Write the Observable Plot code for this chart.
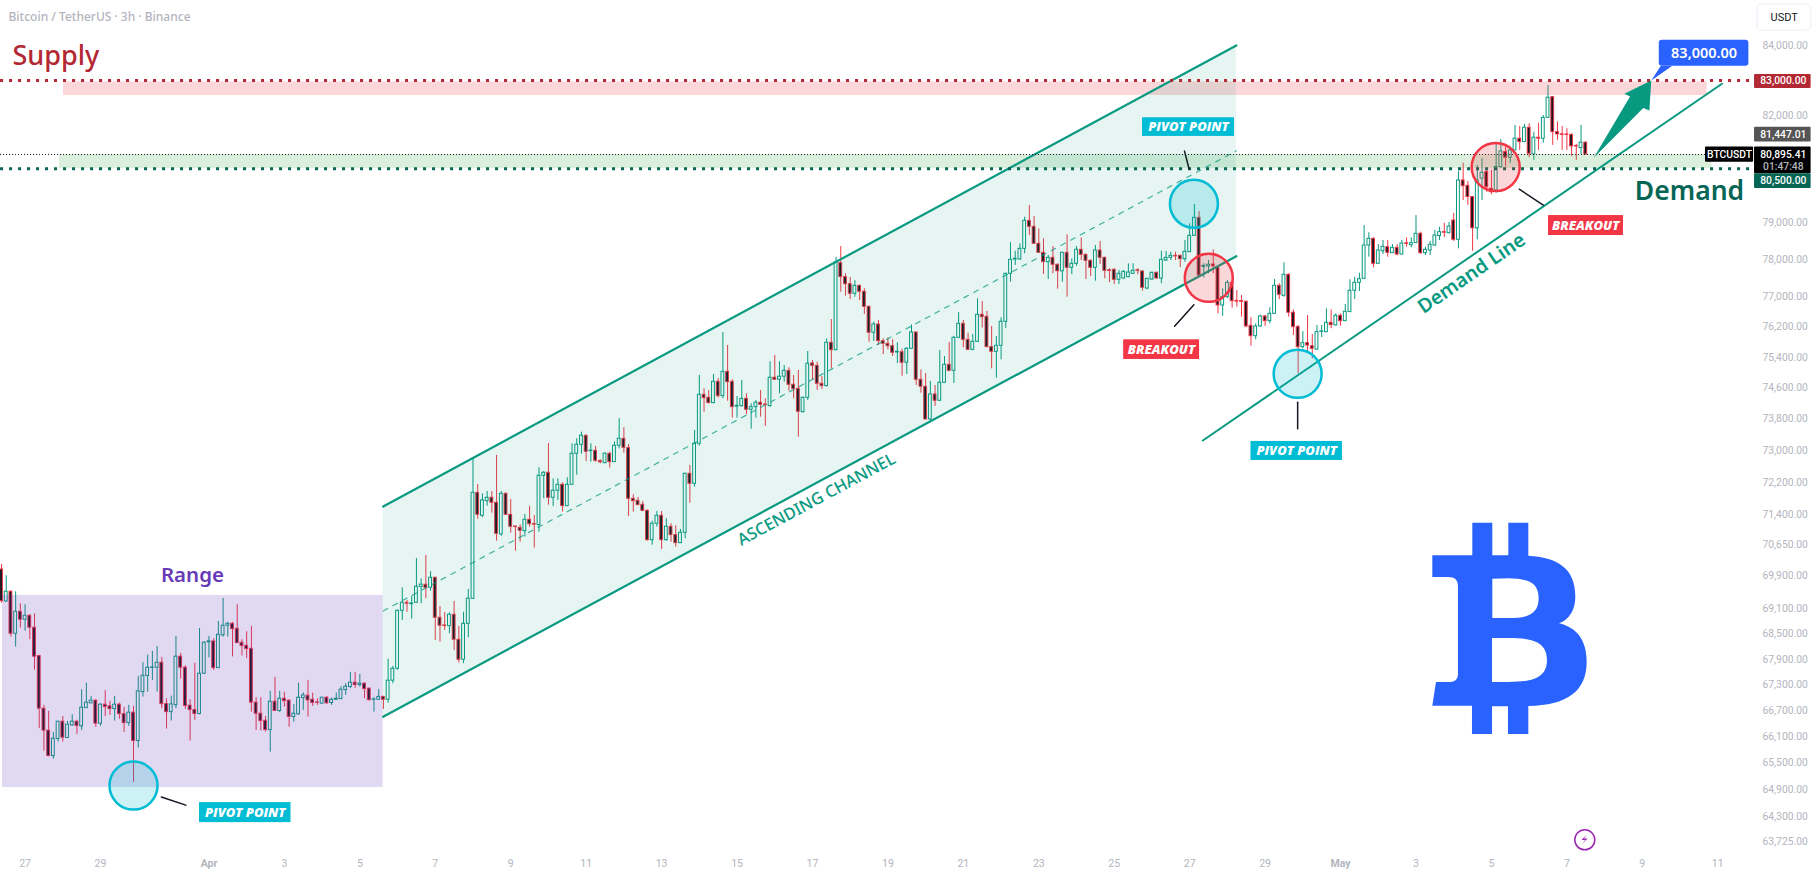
<!DOCTYPE html>
<html>
<head>
<meta charset="utf-8">
<script src="https://cdn.jsdelivr.net/npm/d3@7"></script>
<script src="https://cdn.jsdelivr.net/npm/@observablehq/plot@0.6"></script>
<style>html,body{margin:0;padding:0;background:#fff;overflow:hidden}svg{display:block}</style>
</head>
<body>
<div id="chart"></div>
<script>
const opens = [
70047,69274,69508,68503,69027,68836,68932,68645,67975,66744,
66237,65656,66045,66444,66068,66359,66444,66336,66758,66867,
66930,66398,66837,66798,66735,66837,66620,66412,66652,65999,
67130,67505,67695,67700,67817,66850,66665,66827,67960,67700,
66814,66712,66620,67559,68300,68320,67690,68463,68693,68740,
68621,68289,68218,68146,66884,66628,66465,66251,66906,66690,
66975,66930,66551,66613,66990,67046,66952,66890,66860,66999,
66875,66950,66966,67178,67248,67349,67293,67326,67210,66950,
66952,67018,66952,67396,67676,69050,69243,69210,69243,69625,
69677,69604,69846,68884,68700,68683,68955,68360,67888,68740,
69339,71936,71365,71728,71812,71688,70904,71910,71389,71100,
71068,70985,71266,71160,71135,72362,72437,71812,71987,72136,
71603,72136,72916,73145,73374,72985,72992,72735,72680,72916,
72705,73120,73297,73060,71787,71738,71638,71488,70763,71167,
71365,70763,71093,70888,70690,70945,72412,72161,73170,74425,
74347,74209,74761,74390,75020,74761,74120,74132,74320,74039,
74106,74219,74175,74132,74866,74813,74893,75046,74684,74580,
73978,74347,75238,75177,74710,74648,75780,75585,77903,77525,
77336,77079,77293,77133,76732,76043,76262,75822,75753,75690,
75525,75533,75256,75622,76051,74813,74632,73790,74433,74270,
74735,75203,75046,75910,76280,75858,75595,75805,76520,76466,
75665,75543,75700,76333,77615,78000,78000,78290,79055,78890,
78428,78183,77928,78047,77858,77685,78183,77777,77885,78265,
78128,77966,77777,78245,78047,77710,77723,77454,77489,77525,
77615,77710,77677,77220,77462,77642,77489,77974,78047,78100,
78100,78010,78200,78645,79138,77800,77815,77866,77785,76767,
76988,77373,76890,76885,76865,76228,75953,76210,76475,76350,
76545,77293,77025,77588,76575,76193,75665,75770,75690,75600,
76068,76060,76307,76237,76493,76350,76590,77160,77373,77480,
78381,78563,77885,78226,78336,78175,78318,78136,78440,78390,
78445,78700,78173,78245,78381,78640,78745,78717,79064,78536,
80170,80020,79710,78850,80220,80405,79939,79892,80545,80963,
80806,81011,81340,81244,81650,80900,81368,81340,81932,82521,
81526,81465,81460,81447,81135,81077,81229];
const highs = [
70169,69895,69532,69508,69219,69195,68955,68979,67990,66820,
66682,66198,66444,66566,66451,66605,66474,67185,67340,67030,
66952,66860,67162,66913,67030,66873,66775,66821,66798,67497,
67817,67995,68084,68202,67943,66975,67036,68439,68037,67747,
66952,67802,68629,68310,68439,68384,68795,69346,68771,68771,
69195,68360,68550,68676,66999,66999,66566,67146,67474,67146,
67123,66952,66837,67333,67115,67403,67106,66975,67005,67020,
66990,67106,67256,67326,67590,67590,67543,67340,67225,66999,
67192,67030,67896,67731,69065,69604,69298,69394,70316,69822,
70389,69992,69860,69154,69010,69003,69274,68676,69015,69563,
72790,72144,71910,71969,71969,72874,71969,71935,71770,71110,
71142,71397,71596,71372,72563,72470,73178,72287,72287,72186,
72312,73170,73297,73466,73390,73170,73101,72765,72942,72957,
73221,73808,73577,73152,71886,71820,71720,71510,71232,71472,
71472,71290,71167,71117,71027,72425,72622,73509,74925,74580,
74536,74950,74840,76051,75708,74813,74380,74795,74450,74193,
74278,74536,74322,75282,75447,75282,75185,75124,74925,75054,
74370,75551,75316,75272,74899,75884,76395,78060,78354,77615,
77515,77428,77310,77213,76750,76323,76368,75884,75910,75866,
75780,75610,75650,76254,76060,75072,74975,74769,74665,75577,
75420,75787,75950,76575,76368,76033,75998,76945,76874,76608,
76210,75945,76440,77632,78455,78225,78428,79155,79477,79174,
78836,78563,78110,78354,77885,78200,78672,78020,78354,78590,
78150,77990,78381,78490,78065,77750,77750,77704,77704,77885,
77885,77750,77704,77490,77660,77665,78226,78218,78200,78200,
78125,78517,78974,79505,79310,77885,77974,78263,77800,77213,
77435,77390,77167,77033,76885,76440,76280,76510,76500,76705,
77462,77347,77912,77615,76650,76237,76078,76500,75998,76237,
76237,76677,76650,76545,76545,76794,77454,77525,77632,78927,
78727,78590,78408,78517,78517,78408,78408,78517,78590,78590,
79200,78745,78336,78490,78790,78880,78990,79010,79260,80424,
80650,80142,79720,80590,80778,80452,80452,81236,81312,81105,
81105,81716,81687,81744,81763,81526,81780,81998,82856,82540,
81811,81687,81620,81480,81180,81716,81245];
const lows = [
69233,69250,68423,68186,68636,68564,68360,67644,66283,65770,
65640,65581,65976,65976,66060,66336,66152,66244,66750,66860,
66313,66336,66560,66590,66458,66497,66198,66336,65060,65839,
67013,67130,67403,67130,66744,66274,66458,66744,67433,66728,
65999,66474,66600,67540,67930,67637,67680,68423,68423,67954,
68270,67973,67912,66665,66244,66228,66205,65747,66680,66652,
66782,66313,66435,66590,66705,66551,66798,66821,66855,66850,
66821,66945,66960,67053,67210,67216,67248,66975,66913,66665,
66945,66728,66873,67326,67640,68819,69015,68850,69235,69219,
69339,69522,68344,68304,68581,68503,68107,67810,67794,68407,
69330,71281,71316,71603,71430,70739,70861,71380,70936,70494,
70714,70838,71085,70567,70960,71787,71628,71596,71745,71455,
71595,72130,72377,72906,72723,72705,72705,72665,72665,72553,
72695,73043,72931,71348,71455,71620,71465,70739,70640,71085,
70535,70739,70714,70592,70680,70797,71678,72078,73110,73978,
74193,74195,74338,74320,74260,73824,73824,74106,73911,73542,
73824,73850,73611,74106,74795,74450,74750,74518,74320,73338,
73950,74278,74795,74536,74562,74622,75098,75570,77122,77015,
76927,76988,76900,76527,75795,75813,75708,75472,75595,75420,
75238,74906,74950,75610,74665,74466,73780,73760,74124,74260,
74725,75020,74718,75890,75648,75580,75570,75795,76170,75648,
75098,74855,75334,76160,77390,77840,77990,78155,78653,78415,
78170,77596,77462,77615,77202,77390,76988,77596,77820,77974,
77462,77543,77416,77866,77480,77380,77328,77328,77480,77508,
77605,77590,77150,77185,77435,77462,77347,77947,77974,77974,
77785,77928,78190,78625,77525,77500,77615,77615,76545,76475,
76945,76695,76722,76457,76175,75690,75858,76192,76210,76280,
76535,76927,76988,76457,75971,74968,75622,75533,75360,75590,
75920,76045,76150,76225,76218,76340,76580,76927,77140,77470,
78064,77777,77866,78136,78064,78165,78100,78125,78335,78318,
78435,78136,78110,78110,78354,78517,78600,78700,78490,78290,
79615,79477,78226,78536,79615,79845,79770,79817,80500,80545,
80650,81000,81011,81235,80806,80731,81011,81216,81920,81151,
81292,81011,81011,80844,80731,80895,80890];
const closes = [
69281,69508,68503,69027,68836,68932,68645,67960,66744,66237,
65656,66053,66444,66077,66375,66444,66343,66767,66884,66930,
66398,66837,66782,66735,66837,66620,66412,66652,65999,67146,
67512,67700,67705,67817,66850,66665,66844,67960,67700,66805,
66712,66620,67559,68290,68320,67690,68479,68693,68740,68612,
68280,68209,68138,66884,66628,66458,66251,66906,66690,66975,
66920,66551,66628,66999,67053,66936,66875,66880,66999,66867,
66952,66975,67185,67256,67349,67293,67326,67200,66943,66960,
67018,66952,67396,67676,69050,69243,69220,69225,69629,69680,
69596,69846,68884,68693,68685,68955,68360,67888,68740,69339,
71936,71389,71745,71812,71688,70920,71910,71389,71093,71085,
70995,71266,71157,71145,72362,72437,71812,71987,72136,71603,
72136,72916,73145,73374,72967,72995,72740,72700,72916,72705,
73120,73297,73067,71787,71728,71628,71488,70763,71167,71365,
70763,71093,70888,70690,70945,72412,72161,73170,74425,74338,
74209,74761,74390,75020,74750,74106,74140,74320,74039,74106,
74219,74167,74160,74866,74813,74893,75046,74684,74570,73988,
74347,75230,75177,74710,74648,75780,75585,77930,77525,77336,
77079,77293,77133,76732,76043,76262,75822,75753,75690,75517,
75545,75256,75622,76051,74813,74632,73790,74433,74270,74735,
75203,75046,75910,76280,75858,75595,75805,76520,76455,75665,
75543,75700,76333,77615,77993,78020,78290,79055,78890,78428,
78183,77928,78047,77858,77685,78183,77777,77885,78265,78128,
77966,77777,78245,78047,77696,77690,77454,77615,77669,77650,
77696,77695,77240,77480,77642,77489,77993,78047,78100,78085,
78010,78210,78645,79138,77570,77830,77860,77815,76767,76988,
77373,76881,76870,76865,76210,75953,76210,76475,76350,76545,
77293,77052,77588,76575,76193,75665,75770,75708,75622,76060,
76080,76307,76245,76493,76350,76600,77160,77373,77470,78381,
78563,77885,78245,78346,78183,78318,78136,78435,78425,78445,
78700,78173,78264,78400,78653,78745,78730,78899,78536,80170,
80010,79710,78850,80170,80386,79985,79845,80545,80983,80806,
81011,81340,81244,81650,80917,81368,81340,81932,82504,81526,
81461,81450,81445,81124,81120,81229,80895];

// Axis ticks: bar numbers of the date labels, and the price scale labels
const dayTicks = [5,21,60,76,92,108,124,140,156,172,188,204,220,236,252,268,300,316,332,348,364];
const dayLabels = ["27","29","3","5","7","9","11","13","15","17","19","21","23","25","27","29","3","5","7","9","11"];
const monthTicks = [44,284];
const monthLabels = ["Apr","May"];
const yTicks = [84000,82000,79000,78000,77000,76200,75400,74600,73800,73000,72200,71400,70650,69900,69100,68500,67900,67300,66700,66100,65500,64900,64300,63725];

// Levels
const supplyLevel = 83000, demandLevel = 80500, lastPrice = 80895.41, prevClose = 81447.01;

// Zones: [bar1, bar2, priceTop, priceBottom]
const zoneRange   = [0.21, 80.95, 69418, 64942];
const zoneSupply  = [13.15, 361.75, 82960, 82569];
const zoneDemand  = [12.3, 362.8, 80895, 80500];

// Channel
const channelBars = [80.95, 261.9];
const channelUpper = [71595, 84014];
const channelMid   = [69046, 81000];
const channelLower = [66558, 78090];
const demandLineBars = [254.8, 364.9];
const demandLinePrices = [73254, 82905];

// Arrow polygon and callout pointer
const arrowBars = [337.7, 345.4, 344.2, 349.9, 349.5, 348.2];
const arrowPrices = [80806, 82540, 82618, 83000, 82141, 82215];
const pointerBars = [351.9, 354.3, 349.9];
const pointerPrices = [83420, 83420, 83000];

// Circles
const pivotBars = [28, 252.9, 274.9];
const pivotPrices = [64987, 79524, 74968];
const breakBars = [256.05, 316.9];
const breakPrices = [77508, 80544];

// Leader lines: one short segment per group
const leaders = [
  {g:1,b:33.9,p:64729},{g:1,b:39.07,p:64547},
  {g:2,b:250.9,p:80991},{g:2,b:251.9,p:80480},
  {g:3,b:252.9,p:76785},{g:3,b:248.8,p:76217},
  {g:4,b:274.9,p:74234},{g:4,b:274.9,p:73552},
  {g:5,b:321.9,p:79928},{g:5,b:327,p:79488}
];

// Label boxes
const tagBoxes = [
  {b1:42,b2:61.4,p1:64604,p2:64157,f:"#00bcd4"},
  {b1:242,b2:261.5,p1:81933,p2:81405,f:"#00bcd4"},
  {b1:265,b2:284.4,p1:73229,p2:72748,f:"#00bcd4"},
  {b1:238,b2:254.1,p1:75858,p2:75342,f:"#f23645"},
  {b1:328.1,b2:344,p1:79200,p2:78653,f:"#f23645"}
];
const tagTexts = [
  {b:51.7,p:64380,t:"PIVOT POINT"},
  {b:251.75,p:81668,t:"PIVOT POINT"},
  {b:274.7,p:72988,t:"PIVOT POINT"},
  {b:246,p:75600,t:"BREAKOUT"},
  {b:336,p:78925,t:"BREAKOUT"}
];

// Price-scale tags on the right
const scaleBoxes = [
  {b1:371.8,b2:383.8,p1:83173,p2:82770,f:"#b22833"},
  {b1:371.8,b2:383.8,p1:81661,p2:81245,f:"#555555"},
  {b1:361.4,b2:371.6,p1:81105,p2:80675,f:"#000000"},
  {b1:371.8,b2:383.8,p1:81105,p2:80360,f:"#000000"},
  {b1:371.8,b2:383.8,p1:80360,p2:79950,f:"#056656"}
];
const scaleTexts = [
  {b:377.9,p:83000,t:"83,000.00",c:"#ffffff"},
  {b:377.9,p:81447,t:"81,447.01",c:"#ffffff"},
  {b:366.5,p:80895,t:"BTCUSDT",c:"#ffffff"},
  {b:377.9,p:80895,t:"80,895.41",c:"#ffffff"},
  {b:377.9,p:80560,t:"01:47:48",c:"#b2b5be"},
  {b:377.9,p:80155,t:"80,500.00",c:"#ffffff"}
];

const candles = opens.map((o,i)=>({bar:i,o,h:highs[i],l:lows[i],c:closes[i]}));
const UP = "#089981", DOWN = "#f23645";

// The Bitcoin mark and the bolt are icons, anchored through the scales
function icon(pathD, bar, price, k, fill, rule){
  return (index, {x, y}) => {
    const g = d3.create("svg:path")
      .attr("d", pathD)
      .attr("fill", fill)
      .attr("fill-rule", rule || "nonzero")
      .attr("transform", `translate(${x(bar)},${y(price)}) scale(${k})`);
    return g.node();
  };
}
const btcPath = "M397,226 L517,226 L517,128 L577,128 L577,226 L625,226 L625,128 L685,128 L685,227 C770,232 826,262 826,350 C826,390 808,418 777,430 C830,442 860,480 860,545 C860,635 800,675 685,678 L685,762 L624,762 L624,679 L576,679 L576,762 L516,762 L516,677 L397,677 L408,606 L450,606 C468,606 474,596 474,580 L474,320 C474,300 465,291 445,291 L397,291 Z M577,296 L577,414 L625,414 C680,414 716,405 716,355 C716,305 680,296 625,295 Z M576,474 L576,606 L625,606 C695,606 741,595 741,540 C741,485 695,474 625,474 Z";
const boltPath = "M2.5,-4.8 L-2.8,0.8 L0.9,0.8 L-2.4,4.8 L3.4,-0.9 L-0.3,-0.9 Z";

const NS = "Noto Sans";
const chart = Plot.plot({
  width: 1815, height: 878,
  marginTop: 0, marginLeft: 0, marginRight: 53, marginBottom: 20,
  style: {background: "#ffffff", fontFamily: "Roboto, sans-serif"},
  x: {type: "linear", domain: [-0.212, 384.73], range: [0, 1815], axis: null, label: null},
  y: {type: "log", domain: [85336, 62925], range: [0, 878], axis: null, label: null},
  marks: [
    // candles
    Plot.ruleX(candles, {x: "bar", y1: "l", y2: "h", stroke: d => d.c >= d.o ? UP : DOWN, strokeWidth: 1}),
    Plot.rect(candles, {x1: d => d.bar - 0.3, x2: d => d.bar + 0.3, y1: "o", y2: "c",
      fill: d => d.c >= d.o ? "#ffffff" : "#131722", stroke: d => d.c >= d.o ? UP : DOWN, strokeWidth: 1}),

    // zones drawn over the candles, as on the source
    Plot.rect([zoneRange], {x1: d => d[0], x2: d => d[1], y1: d => d[2], y2: d => d[3], fill: "#673ab7", fillOpacity: 0.2}),
    Plot.rect([zoneSupply], {x1: d => d[0], x2: d => d[1], y1: d => d[2], y2: d => d[3], fill: "#f23645", fillOpacity: 0.2}),
    Plot.rect([zoneDemand], {x1: d => d[0], x2: d => d[1], y1: d => d[2], y2: d => d[3], fill: "#4caf50", fillOpacity: 0.2}),

    // channel
    Plot.areaY(channelBars, {x: channelBars, y1: channelLower, y2: channelUpper, fill: UP, fillOpacity: 0.1, curve: "linear"}),
    Plot.line(channelBars, {x: channelBars, y: channelUpper, stroke: UP, strokeWidth: 2.2}),
    Plot.line(channelBars, {x: channelBars, y: channelLower, stroke: UP, strokeWidth: 2.2}),
    Plot.line(channelBars, {x: channelBars, y: channelMid, stroke: UP, strokeWidth: 1.2, strokeDasharray: "5 6", strokeOpacity: 0.75}),
    Plot.line(demandLineBars, {x: demandLineBars, y: demandLinePrices, stroke: UP, strokeWidth: 2}),

    // level lines
    Plot.ruleY([supplyLevel], {x1: -0.2, x2: 371.4, stroke: "#b22833", strokeWidth: 3, strokeDasharray: "3 6"}),
    Plot.ruleY([demandLevel], {x1: -0.2, x2: 371.4, stroke: "#056656", strokeWidth: 3, strokeDasharray: "3 6"}),
    Plot.ruleY([lastPrice], {x1: -0.2, x2: 361.4, stroke: "#131722", strokeWidth: 1, strokeDasharray: "1 2"}),

    // circles
    Plot.dot(pivotBars, {x: pivotBars, y: pivotPrices, r: 24, fill: "#00bcd4", fillOpacity: 0.2, stroke: "#00bcd4", strokeWidth: 2.5}),
    Plot.dot(breakBars, {x: breakBars, y: breakPrices, r: 24, fill: DOWN, fillOpacity: 0.2, stroke: DOWN, strokeWidth: 2.5}),

    // leaders
    Plot.line(leaders, {x: "b", y: "p", z: "g", stroke: "#131722", strokeWidth: 1.5}),

    // arrow and callout
    Plot.line(arrowBars, {x: arrowBars, y: arrowPrices, stroke: "none", fill: UP}),
    Plot.line(pointerBars, {x: pointerBars, y: pointerPrices, stroke: "none", fill: "#2962ff"}),
    Plot.rect([0], {x1: () => 351.6, x2: () => 370.6, y1: () => 84166, y2: () => 83412, fill: "#2962ff", rx: 3}),
    Plot.text(["83,000.00"], {x: () => 361.1, y: () => 83796, text: d => d, fill: "#ffffff", fontSize: 14.5, fontWeight: 600, fontFamily: NS}),

    // label boxes
    Plot.rect(tagBoxes, {x1: "b1", x2: "b2", y1: "p1", y2: "p2", fill: "f"}),
    Plot.text(tagTexts, {x: "b", y: "p", text: "t", fill: "#ffffff", fontSize: 13, fontWeight: 800, fontStyle: "italic", fontFamily: "Open Sans"}),

    // free text
    Plot.text(["Bitcoin / TetherUS · 3h · Binance"], {x: () => 1.48, y: () => 84834, text: d => d, textAnchor: "start", fill: "#b2b5be", fontSize: 12, fontWeight: 500, fontFamily: NS}),
    Plot.text(["Supply"], {x: () => 2.33, y: () => 83694, text: d => d, textAnchor: "start", fill: "#b22833", fontSize: 27, fontWeight: 500, fontFamily: NS}),
    Plot.text(["Demand"], {x: () => 358, y: () => 79864, text: d => d, fill: "#056656", fontSize: 26.5, fontWeight: 600, fontFamily: NS}),
    Plot.text(["Range"], {x: () => 40.5, y: () => 69902, text: d => d, fill: "#673ab7", fontSize: 20.5, fontWeight: 600, fontFamily: NS}),
    Plot.text(["ASCENDING CHANNEL"], {x: () => 172.85, y: () => 71770, text: d => d, rotate: -28.3, fill: UP, fontSize: 16.5, fontWeight: 500, fontFamily: NS}),
    Plot.text(["Demand Line"], {x: () => 311.8, y: () => 77623, text: d => d, rotate: -34.5, fill: UP, fontSize: 19.5, fontWeight: 600, fontFamily: NS}),

    // icons
    icon(btcPath, 275.5, 72244, 1/3, "#2962ff", "evenodd"),
    Plot.dot([0], {x: () => 335.8, y: () => 63776, r: 10, fill: "#ffffff", stroke: "#9c27b0", strokeWidth: 1.5}),
    icon(boltPath, 335.8, 63776, 1, "#9c27b0"),

    // axes
    Plot.axisY(yTicks, {anchor: "right", tickSize: 0, tickPadding: 0, tickFormat: d3.format(",.2f"), label: null, color: "#b2b5be", fontSize: 10.3}),
    Plot.axisX(dayTicks, {anchor: "bottom", tickSize: 0, tickPadding: 1, tickFormat: d => dayLabels[dayTicks.indexOf(d)], label: null, color: "#b2b5be", fontSize: 10.5}),
    Plot.axisX(monthTicks, {anchor: "bottom", tickSize: 0, tickPadding: 1, tickFormat: d => monthLabels[monthTicks.indexOf(d)], label: null, color: "#b2b5be", fontSize: 10.5, fontWeight: 700}),

    // price-scale tags
    Plot.rect(scaleBoxes, {x1: "b1", x2: "b2", y1: "p1", y2: "p2", fill: "f", rx: 1}),
    Plot.text(scaleTexts, {x: "b", y: "p", text: "t", fill: "c", fontSize: 10.3, fontWeight: 500}),

    // USDT button
    Plot.rect([0], {x1: () => 372.4, x2: () => 383.8, y1: () => 85218, y2: () => 84452, fill: "#ffffff", stroke: "#f0f3fa", strokeWidth: 1.5, rx: 4}),
    Plot.text(["USDT"], {x: () => 378.1, y: () => 84830, text: d => d, fill: "#131722", fontSize: 11})
  ]
});
document.getElementById("chart").append(chart);
</script>
</body>
</html>
